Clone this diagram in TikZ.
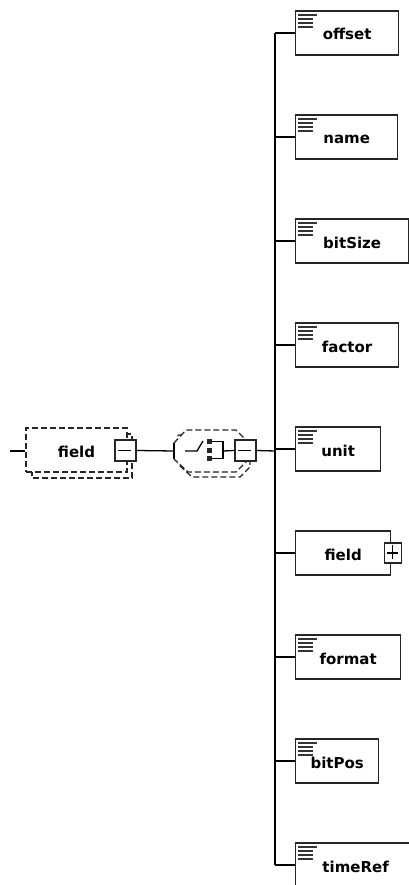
\documentclass[tikz,border=0pt]{standalone}
\usepackage{fontspec}
\setmainfont{DejaVu Sans}
\begin{document}
\begin{tikzpicture}[x=1pt, y=-1pt, line width=1.3pt,
    elem/.style={draw=black!85, fill=white, minimum height=44pt, inner sep=0pt, anchor=west, text height=14pt, text depth=0pt, font=\bfseries\fontsize{15}{17}\selectfont},
    opt/.style={draw=black!85, fill=white, dash pattern=on 6pt off 3pt},
    pm/.style={draw=black!85, fill=white, minimum width=21pt, minimum height=21pt, inner sep=0pt},
    doc/.style={line width=2pt, black!80}]
  \useasboundingbox (0,0) rectangle (409,885);
  % parent element (optional, dashed)
  \draw[opt] (32,434) rectangle (132,478);
  \node[opt, minimum width=101pt, minimum height=44pt, inner sep=0pt, text height=14pt, text depth=0pt, font=\bfseries\fontsize{15}{17}\selectfont] (root) at (76.5,450) {field};
  \coordinate (in) at (10,451);
  \draw (in) -- (root.west |- in);
  \node[pm] (rootm) at (125.5,450.5) {};
  \draw (rootm.west) ++(4,0) -- ++(13,0);
  % sequence compositor
  \draw[opt] (178,435) -- (190,435) -- (240,435) -- (250,445) -- (250,467) -- (240,477) -- (192,477) -- (178,464) -- cycle;
  \draw[opt] (174,443) -- (186,430) -- (236,430) -- (246,440) -- (246,462) -- (236,472) -- (188,472) -- (174,459);
  \coordinate (seqin) at (174,451);
  \draw (rootm.east) -- (seqin);
  \draw (174,443) -- (174,459);
  \draw (185,451) -- (197,451) -- (203,441);
  \foreach \d in {439,447.5,456}
    \fill[black!85] (207,\d) rectangle (212,\d+5);
  \draw (212,441.5) -- (223,441.5) -- (223,458.5) -- (212,458.5);
  \node[pm] (seqm) at (245.5,450.5) {};
  \draw (seqm.west) ++(4,0) -- ++(13,0);
  \draw (223,451) -- (seqm.west);
  % children
  \foreach \i/\t/\w in {1/offset/103, 2/name/102, 3/bitSize/113, 4/factor/103, 5/unit/85,
      6/field/95, 7/format/105, 8/bitPos/83, 9/timeRef/120}
    \node[elem, minimum width=\w pt] (c\i) at (295,{33+104*(\i-1)}) {\t};
  \foreach \i in {1,2,3,4,5,7,8,9} {
    \draw[doc] ([shift={(3,5)}]c\i.north west) -- ++(19,0);
    \foreach \k in {9,13,17}
      \draw[doc] ([shift={(3,\k)}]c\i.north west) -- ++(15,0);
  }
  \node[pm, minimum width=17pt, minimum height=20pt] (c6p) at ([xshift=1.5pt]c6.east) {};
  \draw (c6p.west) ++(3,0) -- ++(11,0);
  \draw (c6p.north) ++(0,3) -- ++(0,14);
  % connectors
  \coordinate (spine) at (275,451);
  \draw (seqm.east) -- (spine);
  \draw (spine |- c1.west) -- (spine |- c9.west);
  \foreach \i in {1,...,9}
    \draw (c\i.west) -- (spine |- c\i.west);
\end{tikzpicture}
\end{document}
